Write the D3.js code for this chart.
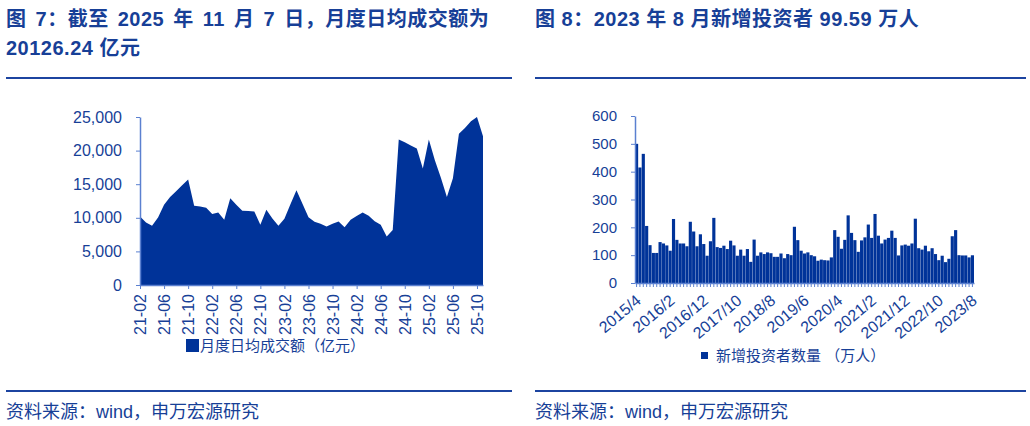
<!DOCTYPE html>
<html>
<head>
<meta charset="utf-8">
<script src="https://cdn.jsdelivr.net/npm/d3@7"></script>
<style>
  body { margin: 0; background: #fff; }
  svg text { font-family: "Liberation Sans", Arial, "Noto Sans CJK SC", sans-serif; }
</style>
</head>
<body>
<svg id="chart" width="1030" height="426"></svg>
<script>
// left chart: monthly average daily turnover (亿元)
var turnoverMonths = [
  "21-02","21-03","21-04","21-05","21-06","21-07","21-08","21-09","21-10","21-11","21-12",
  "22-01","22-02","22-03","22-04","22-05","22-06","22-07","22-08","22-09","22-10","22-11","22-12",
  "23-01","23-02","23-03","23-04","23-05","23-06","23-07","23-08","23-09","23-10","23-11","23-12",
  "24-01","24-02","24-03","24-04","24-05","24-06","24-07","24-08","24-09","24-10","24-11","24-12",
  "25-01","25-02","25-03","25-04","25-05","25-06","25-07","25-08","25-09","25-10","25-11"
];
var turnoverValues = [
  10200, 9300, 8800, 10050, 11950, 13100, 13950, 14850, 15700, 11800, 11700,
  11500, 10550, 10800, 9700, 12900, 11950, 11050, 11000, 10950, 8950, 11200, 9900,
  8800, 9850, 12000, 14100, 12100, 10100, 9400, 9100, 8700, 9100, 9450, 8600,
  9700, 10250, 10800, 10300, 9500, 8950, 7200, 8200, 21650, 21250, 20750, 20300,
  17350, 21650, 18550, 15950, 13100, 15900, 22500, 23350, 24350, 25000, 22150
];
var turnoverTicks = ["21-02","21-06","21-10","22-02","22-06","22-10","23-02","23-06","23-10",
  "24-02","24-06","24-10","25-02","25-06","25-10"];
var turnoverYTicks = [0, 5000, 10000, 15000, 20000, 25000];

// right chart: new investors per month (万人)
var investorMonths = [
  "2015/4","2015/5","2015/6","2015/7","2015/8","2015/9","2015/10","2015/11","2015/12",
  "2016/1","2016/2","2016/3","2016/4","2016/5","2016/6","2016/7","2016/8","2016/9","2016/10","2016/11","2016/12",
  "2017/1","2017/2","2017/3","2017/4","2017/5","2017/6","2017/7","2017/8","2017/9","2017/10","2017/11","2017/12",
  "2018/1","2018/2","2018/3","2018/4","2018/5","2018/6","2018/7","2018/8","2018/9","2018/10","2018/11","2018/12",
  "2019/1","2019/2","2019/3","2019/4","2019/5","2019/6","2019/7","2019/8","2019/9","2019/10","2019/11","2019/12",
  "2020/1","2020/2","2020/3","2020/4","2020/5","2020/6","2020/7","2020/8","2020/9","2020/10","2020/11","2020/12",
  "2021/1","2021/2","2021/3","2021/4","2021/5","2021/6","2021/7","2021/8","2021/9","2021/10","2021/11","2021/12",
  "2022/1","2022/2","2022/3","2022/4","2022/5","2022/6","2022/7","2022/8","2022/9","2022/10","2022/11","2022/12",
  "2023/1","2023/2","2023/3","2023/4","2023/5","2023/6","2023/7","2023/8"
];
var investorValues = [
  500, 415, 464, 205, 136, 108, 108, 147, 142,
  135, 116, 230, 155, 142, 142, 132, 220, 185, 132, 175, 140,
  98, 150, 234, 129, 126, 134, 122, 152, 135, 98, 120,
  98, 122, 76, 156, 98, 110, 104, 110, 107, 94, 94,
  106, 89, 104, 100, 202, 154, 116, 106, 110, 100, 96, 80,
  84, 82, 81, 92, 190, 166, 123, 155, 243, 180, 154, 112,
  153, 164, 210, 162, 248, 170, 142, 156, 162, 188, 162,
  99, 135, 138, 134, 142, 231, 125, 120, 134, 114, 125, 104,
  82, 98, 75, 87, 168, 190, 100, 99, 99, 92, 99.59
];
var investorTicks = ["2015/4","2016/2","2016/12","2017/10","2018/8","2019/6","2020/4",
  "2021/2","2021/12","2022/10","2023/8"];
var investorYTicks = [0, 100, 200, 300, 400, 500, 600];

var navy = "#003399";
var textBlue = "#173f97";
var axisBlue = "#5b80d0";
var ruleBlue = "#1c44a0";

var svg = d3.select("#chart");

// titles and rules
function title(x, y, s, ws) {
  svg.append("text").attr("x", x).attr("y", y)
    .attr("font-size", 20).attr("font-weight", "bold").attr("fill", textBlue)
    .attr("letter-spacing", 0.5).attr("word-spacing", ws)
    .text(s);
}
title(6, 26, "图 7：截至 2025 年 11 月 7 日，月度日均成交额为", 3);
title(6, 55, "20126.24 亿元", 0);
title(535, 26, "图 8：2023 年 8 月新增投资者 99.59 万人", 0);

[[6, 512], [535, 1026]].forEach(function(r) {
  svg.append("line").attr("x1", r[0]).attr("x2", r[1]).attr("y1", 78).attr("y2", 78)
    .attr("stroke", ruleBlue).attr("stroke-width", 2);
  svg.append("line").attr("x1", r[0]).attr("x2", r[1]).attr("y1", 391).attr("y2", 391)
    .attr("stroke", ruleBlue).attr("stroke-width", 2);
  svg.append("text").attr("x", r[0]).attr("y", 418)
    .attr("font-size", 18).attr("fill", textBlue)
    .attr("font-family", "'Noto Sans CJK SC', sans-serif")
    .text("资料来源：wind，申万宏源研究");
});

function styleAxis(size) {
  return function(g) {
    g.select(".domain").attr("stroke", axisBlue).attr("stroke-width", 1.5);
    g.selectAll(".tick line").attr("stroke", axisBlue);
    g.selectAll(".tick text").attr("fill", textBlue).attr("font-size", size)
      .attr("font-family", "'Liberation Sans', Arial, sans-serif");
  };
}

// ---- left chart ----
var xL = d3.scalePoint().domain(turnoverMonths).range([140, 483]);
var yL = d3.scaleLinear().domain([0, 25000]).range([285, 117]);

var area = d3.area()
  .x(function(d, i) { return xL(turnoverMonths[i]); })
  .y0(yL(0))
  .y1(function(d) { return yL(d); });

svg.append("path").datum(turnoverValues)
  .attr("d", area).attr("fill", navy);

svg.append("g").attr("transform", "translate(140,0)")
  .call(d3.axisLeft(yL).tickValues(turnoverYTicks).tickFormat(d3.format(",")).tickSize(4).tickSizeOuter(0).tickPadding(14))
  .call(styleAxis(16));

var gxL = svg.append("g").attr("transform", "translate(0,285)")
  .call(d3.axisBottom(xL).tickValues(turnoverTicks).tickSize(4).tickSizeOuter(0))
  .call(styleAxis(16));
gxL.selectAll(".tick text")
  .attr("text-anchor", "end")
  .attr("transform", "translate(0,9) rotate(-90)")
  .attr("x", 0).attr("y", 0).attr("dy", "0.35em");

svg.append("rect").attr("x", 186).attr("y", 339).attr("width", 13).attr("height", 13).attr("fill", navy);
svg.append("text").attr("x", 200).attr("y", 351).attr("font-size", 15).attr("fill", textBlue)
  .attr("font-family", "'Noto Sans CJK SC', sans-serif")
  .text("月度日均成交额（亿元）");

// ---- right chart ----
var xR = d3.scaleBand().domain(investorMonths).range([635, 974]).paddingInner(0.06);
var yR = d3.scaleLinear().domain([0, 600]).range([283, 116]);

svg.append("g").selectAll("rect")
  .data(investorValues)
  .enter()
  .append("rect")
    .attr("x", function(d, i) { return xR(investorMonths[i]); })
    .attr("y", function(d) { return yR(d); })
    .attr("width", xR.bandwidth())
    .attr("height", function(d) { return yR(0) - yR(d); })
    .attr("fill", navy);

svg.append("g").attr("transform", "translate(635,0)")
  .call(d3.axisLeft(yR).tickValues(investorYTicks).tickSize(4).tickSizeOuter(0).tickPadding(14))
  .call(styleAxis(15));

var gxR = svg.append("g").attr("transform", "translate(0,283)")
  .call(d3.axisBottom(xR).tickSize(4).tickSizeOuter(0)
    .tickFormat(function(d) { return investorTicks.indexOf(d) >= 0 ? d : ""; }))
  .call(styleAxis(16));
gxR.selectAll(".tick text")
  .attr("text-anchor", "end")
  .attr("transform", "translate(2,15) rotate(-40)")
  .attr("x", 0).attr("y", 0).attr("dy", "0.35em");

svg.append("rect").attr("x", 701).attr("y", 352).attr("width", 7).attr("height", 7).attr("fill", navy);
svg.append("text").attr("x", 716).attr("y", 361).attr("font-size", 15).attr("fill", textBlue)
  .attr("font-family", "'Noto Sans CJK SC', sans-serif")
  .text("新增投资者数量 （万人）");
</script>
</body>
</html>
